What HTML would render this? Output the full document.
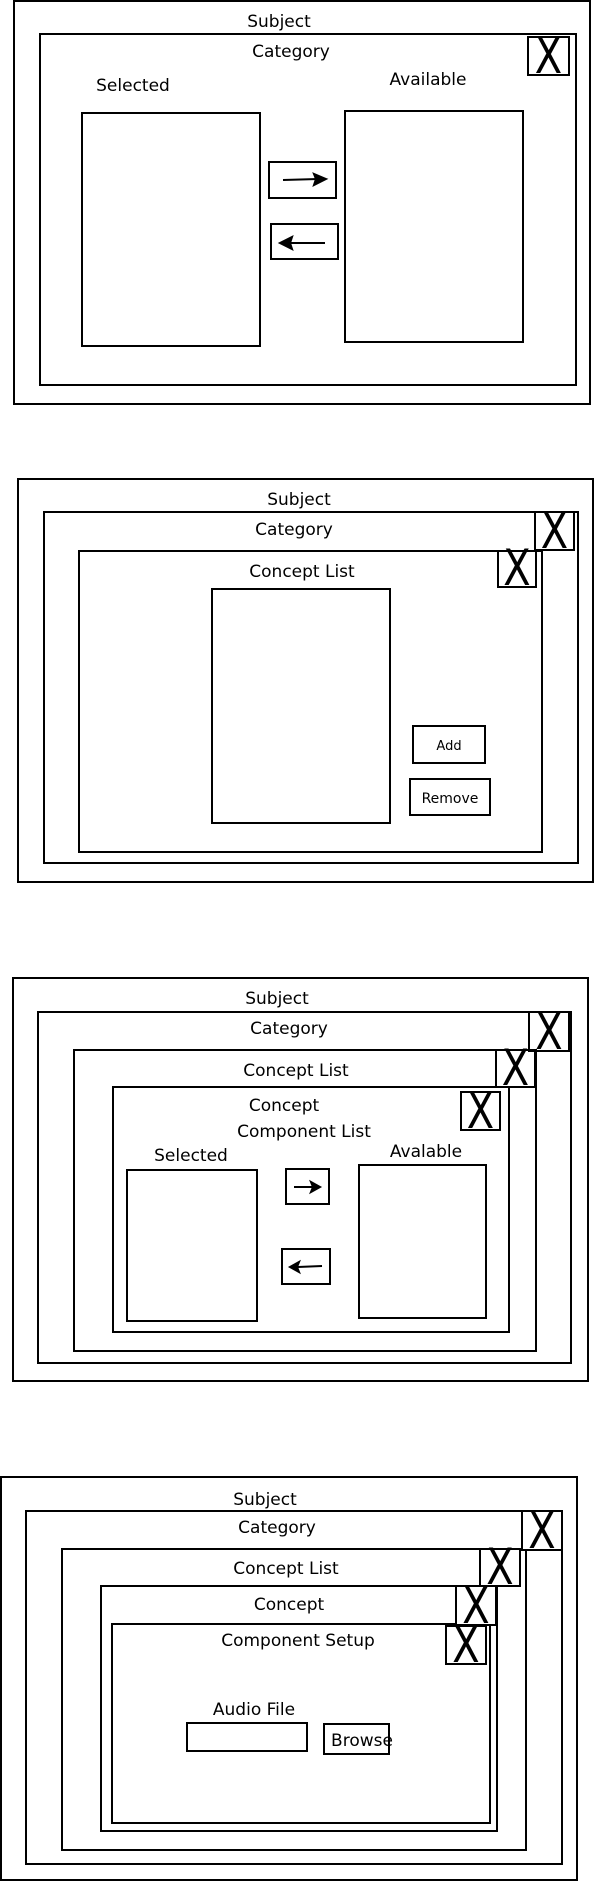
<!DOCTYPE html>
<html><head><style>
html,body{margin:0;padding:0;background:#fff;width:597px;height:1891px;overflow:hidden}
svg text{font-family:"DejaVu Sans","Liberation Sans",sans-serif;font-size:17px;fill:#000}
.x{font-size:50px}
</style></head><body>
<svg width="597" height="1891" viewBox="0 0 597 1891" xmlns="http://www.w3.org/2000/svg">
<g fill="none" stroke="#000" stroke-width="2">
<rect x="14" y="1" width="576" height="403"/>
<rect x="40" y="34" width="536" height="351"/>
<rect x="528" y="37" width="41" height="38"/>
<rect x="82" y="113" width="178" height="233"/>
<rect x="345" y="111" width="178" height="231"/>
<rect x="269" y="162" width="67" height="36"/>
<rect x="271" y="224" width="67" height="35"/>
<rect x="18" y="479" width="575" height="403"/>
<rect x="44" y="512" width="534" height="351"/>
<rect x="535" y="512" width="39" height="38"/>
<rect x="79" y="551" width="463" height="301"/>
<rect x="498" y="551" width="38" height="36"/>
<rect x="212" y="589" width="178" height="234"/>
<rect x="413" y="726" width="72" height="37"/>
<rect x="410" y="779" width="80" height="36"/>
<rect x="13" y="978" width="575" height="403"/>
<rect x="38" y="1012" width="533" height="351"/>
<rect x="529" y="1012" width="40" height="39"/>
<rect x="74" y="1050" width="462" height="301"/>
<rect x="496" y="1050" width="39" height="37"/>
<rect x="113" y="1087" width="396" height="245"/>
<rect x="461" y="1092" width="39" height="38"/>
<rect x="127" y="1170" width="130" height="151"/>
<rect x="359" y="1165" width="127" height="153"/>
<rect x="286" y="1169" width="43" height="35"/>
<rect x="282" y="1249" width="48" height="35"/>
<rect x="1" y="1477" width="576" height="403"/>
<rect x="26" y="1511" width="536" height="353"/>
<rect x="62" y="1549" width="464" height="301"/>
<rect x="101" y="1586" width="396" height="245"/>
<rect x="112" y="1624" width="378" height="199"/>
<rect x="187" y="1723" width="120" height="28"/>
<rect x="324" y="1724" width="65" height="30"/>
</g>
<g fill="#fff" stroke="#000" stroke-width="2">
<rect x="522" y="1511" width="40" height="39"/>
<rect x="480" y="1549" width="40" height="37"/>
<rect x="456" y="1586" width="40" height="39"/>
<rect x="446" y="1626" width="40" height="38"/>
</g>
<g stroke="#000" stroke-width="2" fill="#000">
<line x1="283" y1="180" x2="318" y2="179"/><polygon points="326,179 314,174 316,179 314,185"/>
<line x1="325" y1="243" x2="290" y2="243"/><polygon points="280,243 292,237 290,243 292,249"/>
<line x1="294" y1="1187" x2="313" y2="1187"/><polygon points="320,1187 311,1182 313,1187 311,1192"/>
<line x1="322" y1="1266" x2="298" y2="1267"/><polygon points="290,1267 299,1262 297,1267 299,1272"/>
</g>
<g text-anchor="middle">
<text class="x" transform="translate(548.5 73) scale(0.8 1)">X</text>
<text class="x" transform="translate(554.5 548) scale(0.8 1)">X</text>
<text class="x" transform="translate(517 585) scale(0.8 1)">X</text>
<text class="x" transform="translate(549 1049) scale(0.8 1)">X</text>
<text class="x" transform="translate(515.5 1085) scale(0.8 1)">X</text>
<text class="x" transform="translate(480.5 1128) scale(0.8 1)">X</text>
<text class="x" transform="translate(542 1548) scale(0.8 1)">X</text>
<text class="x" transform="translate(500 1584) scale(0.8 1)">X</text>
<text class="x" transform="translate(476 1623) scale(0.8 1)">X</text>
<text class="x" transform="translate(466 1662) scale(0.8 1)">X</text>
</g>
<g text-anchor="middle">
<text x="279" y="27">Subject</text>
<text x="291" y="57">Category</text>
<text x="133" y="91">Selected</text>
<text x="428" y="85">Available</text>
<text x="299" y="505">Subject</text>
<text x="294" y="535">Category</text>
<text x="302" y="577">Concept List</text>
<text x="449" y="750" style="font-size:13px">Add</text>
<text x="450" y="803" style="font-size:14px">Remove</text>
<text x="277" y="1004">Subject</text>
<text x="289" y="1034">Category</text>
<text x="296" y="1076">Concept List</text>
<text x="284" y="1111">Concept</text>
<text x="304" y="1137">Component List</text>
<text x="191" y="1161">Selected</text>
<text x="426" y="1157">Avalable</text>
<text x="265" y="1505">Subject</text>
<text x="277" y="1533">Category</text>
<text x="286" y="1574">Concept List</text>
<text x="289" y="1610">Concept</text>
<text x="298" y="1646">Component Setup</text>
<text x="254" y="1715">Audio File</text>
<text x="362" y="1746">Browse</text>
</g>
</svg>
</body></html>
